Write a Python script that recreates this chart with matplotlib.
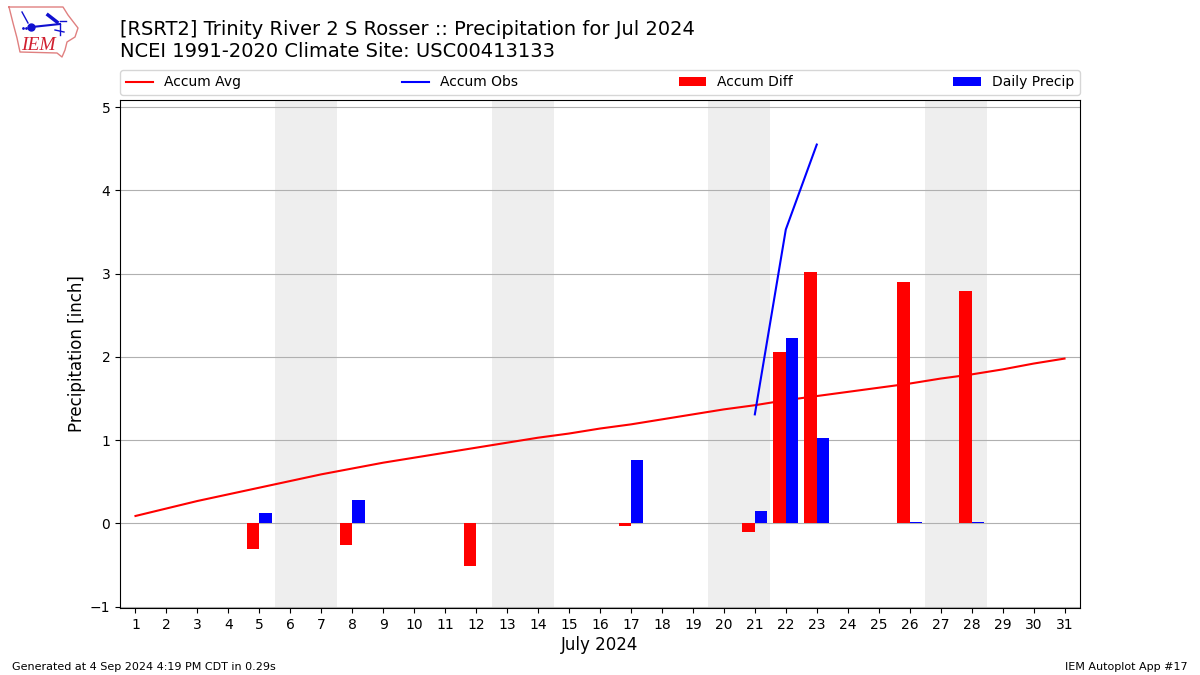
#!/usr/bin/env python3
"""
Accumulated precipitation chart for RSRT2, Jul 2024
"""

import matplotlib
matplotlib.use('Agg')
import matplotlib.pyplot as plt

# values
days = list(range(1, 32))
accum_avg = [0.09, 0.18, 0.27, 0.35, 0.43, 0.51, 0.59, 0.66, 0.73, 0.79, 0.85,
             0.91, 0.97, 1.03, 1.08, 1.14, 1.19, 1.25, 1.31, 1.37, 1.42, 1.48,
             1.53, 1.58, 1.63, 1.68, 1.74, 1.79, 1.85, 1.92, 1.98]
obs_days = [21, 22, 23]
accum_obs = [1.31, 3.53, 4.55]
diff_days = [5, 8, 12, 17, 21, 22, 23, 26, 28]
accum_diff = [-0.31, -0.26, -0.51, -0.03, -0.10, 2.06, 3.02, 2.90, 2.79]
precip_days = [5, 8, 17, 21, 22, 23, 26, 28]
daily_precip = [0.12, 0.28, 0.76, 0.15, 2.23, 1.03, 0.015, 0.015]
weekends = [(5.5, 7.5), (12.5, 14.5), (19.5, 21.5), (26.5, 28.5)]

W, H = 1200, 675
fig = plt.figure(figsize=(12, 6.75), dpi=100)
ax = fig.add_axes([120 / W, 1 - 608 / H, 960 / W, 508 / H])

for lo, hi in weekends:
    ax.axvspan(lo, hi, color='#eeeeee', lw=0, zorder=0)

ax.plot(days, accum_avg, color='r', label='Accum Avg', zorder=1.5)
ax.plot(obs_days, accum_obs, color='b', label='Accum Obs', zorder=1.6)
ax.bar(diff_days, accum_diff, width=-0.4, align='edge', color='r',
       label='Accum Diff', zorder=2)
ax.bar(precip_days, daily_precip, width=0.4, align='edge', color='b',
       label='Daily Precip', zorder=2)

ax.set_xlim(0.5, 31.5)
ax.set_ylim(-1.015, 5.085)
ax.set_xticks(days)
ax.set_yticks(range(-1, 6))
ax.grid(True, axis='y', color='#b0b0b0', lw=0.8)
ax.set_axisbelow(True)
ax.set_xlabel('July 2024', fontsize=12, labelpad=3)
ax.set_ylabel('Precipitation [inch]', fontsize=12, labelpad=3)

# legend box sits above the axes over its whole width
ax.legend(loc='lower left', bbox_to_anchor=(0, 1.0098, 1, 0.05), ncol=4,
          mode='expand', borderaxespad=0, fontsize=10)

# title and footer
fig.text(120 / W, 1 - 29.4 / H, '[RSRT2] Trinity River 2 S Rosser :: Precipitation for Jul 2024',
         fontsize=14, va='center')
fig.text(120 / W, 1 - 51.4 / H, 'NCEI 1991-2020 Climate Site: USC00413133',
         fontsize=14, va='center')
fig.text(12 / W, 1 - 667 / H, 'Generated at 4 Sep 2024 4:19 PM CDT in 0.29s',
         fontsize=8, va='center')
fig.text(1188 / W, 1 - 667 / H, 'IEM Autoplot App #17', fontsize=8, va='center',
         ha='right')

# logo, pixel coordinates of the crop
logo = fig.add_axes([0, 1 - 70 / H, 130 / W, 70 / H])
logo.set_xlim(0, 130)
logo.set_ylim(70, 0)
logo.axis('off')
logo.patch.set_alpha(0)
logo.plot([9, 63, 68, 78, 75, 67, 65, 62, 57, 20, 17, 13, 9],
          [7, 7, 15, 28, 37, 42, 50, 57, 53, 52, 38, 23, 7],
          color='#e08080', lw=1)
blue = '#1010d0'
logo.plot([32, 60], [27, 24], color=blue, lw=1.5)
logo.plot([48, 57], [15, 22], color=blue, lw=2.5)
logo.plot([60, 60], [24, 35], color=blue, lw=1)
logo.plot([55, 64], [30, 32], color=blue, lw=1)
logo.plot([60, 66], [21, 21], color=blue, lw=1)
logo.plot([22, 28], [12, 23], color=blue, lw=1)
logo.plot([23, 26], [28, 28], ls='none', marker='.', ms=2, color=blue)
logo.plot([31], [27], marker='o', ms=5, color=blue)
logo.text(21, 45, 'IEM', color='#d02030', fontsize=14, family='Liberation Serif',
          style='italic', va='center')

fig.savefig('out.png', dpi=100)
